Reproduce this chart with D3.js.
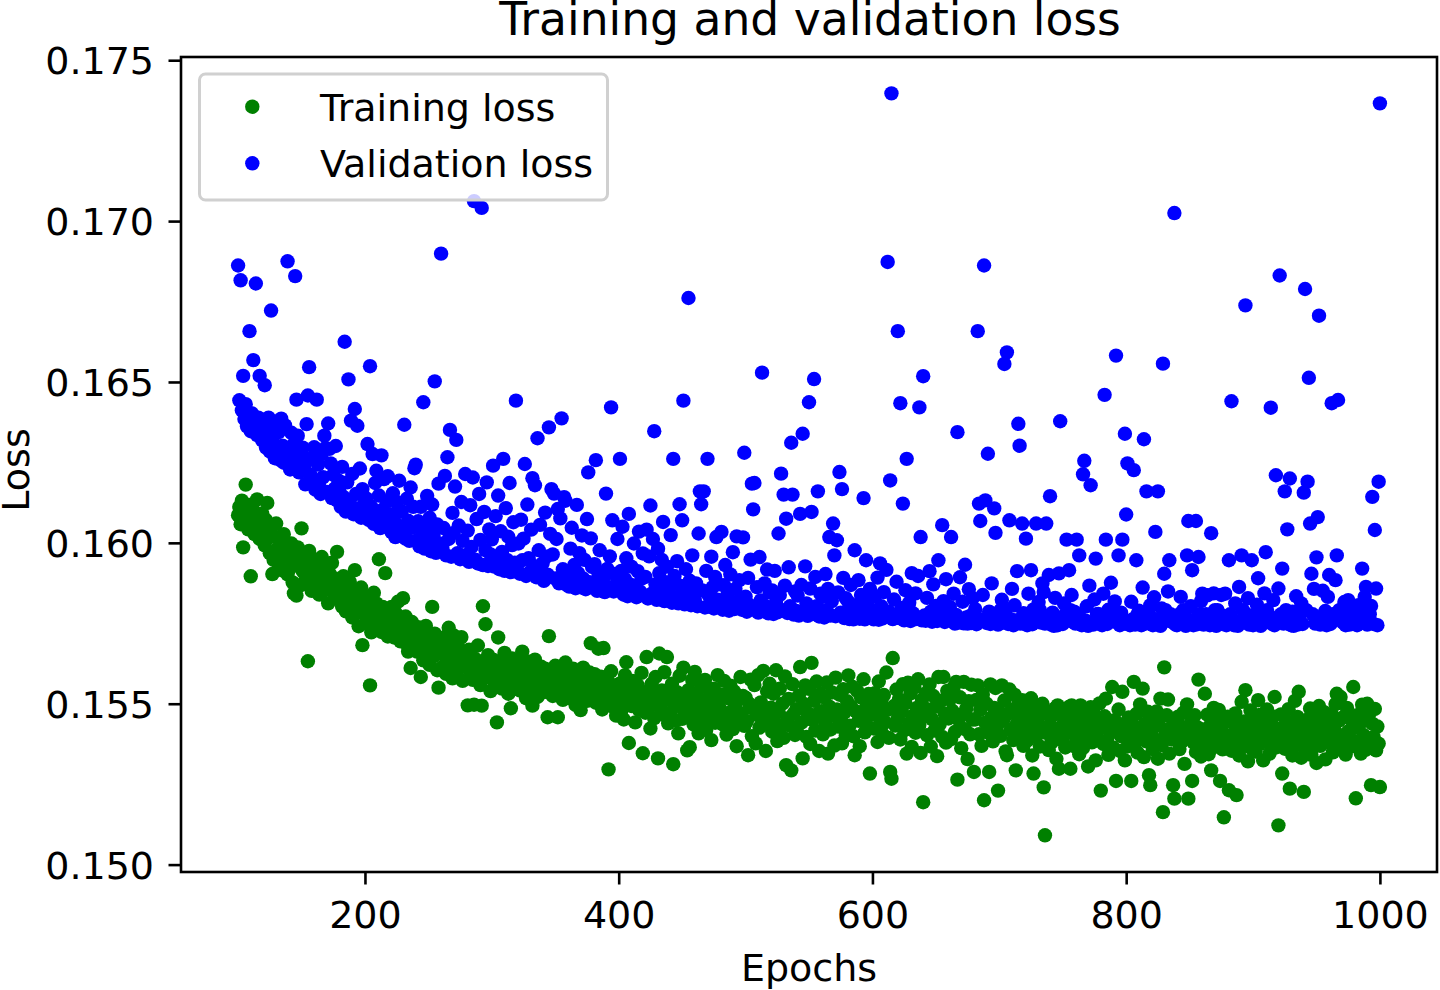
<!DOCTYPE html>
<html><head><meta charset="utf-8">
<script src="https://cdn.jsdelivr.net/npm/d3@7"></script>
<style>body{margin:0;background:#fff} svg{display:block} text{font-family:"DejaVu Sans",sans-serif;fill:#000}</style>
</head><body>
<svg id="chart" width="1440" height="990"></svg>
<script>
const epochStart = 100;
const trainLoss = [
0.16086,0.16112,0.16058,0.16131,0.15986,0.16095,0.16181,0.16074,0.16042,0.16118,0.15896,0.16063,0.16101,0.16027,0.16079,0.16135,0.16048,0.16012,0.16066,0.16091,
0.16038,0.15992,0.16071,0.16124,0.16015,0.15968,0.16052,0.15903,0.15947,0.16019,0.16060,0.15981,0.15935,0.16008,0.15972,0.15914,0.16027,0.15958,0.15996,0.15902,
0.15963,0.15921,0.15998,0.15877,0.15843,0.15952,0.15836,0.15986,0.15931,0.15868,0.16045,0.15912,0.15957,0.15883,0.15939,0.15632,0.15975,0.15896,0.15851,0.15928,
0.15902,0.15948,0.15867,0.15915,0.15839,0.15881,0.15956,0.15894,0.15852,0.15923,0.15877,0.15812,0.15905,0.15861,0.15938,0.15846,0.15889,0.15827,0.15972,0.15864,
0.15834,0.15871,0.15802,0.15896,0.15845,0.15787,0.15858,0.15813,0.15879,0.15846,0.15768,0.15824,0.15915,0.15795,0.15852,0.15741,0.15808,0.15861,0.15682,0.15779,
0.15789,0.15832,0.15748,0.15806,0.15557,0.15722,0.15791,0.15845,0.15764,0.15812,0.15738,0.15949,0.15779,0.15723,0.15801,0.15756,0.15906,0.15782,0.15709,0.15768,
0.15742,0.15801,0.15768,0.15706,0.15783,0.15735,0.15817,0.15759,0.15694,0.15748,0.15828,0.15722,0.15771,0.15685,0.15662,0.15739,0.15611,0.15754,0.15708,0.15673,
0.15704,0.15662,0.15738,0.15691,0.15583,0.15726,0.15635,0.15679,0.15742,0.15658,0.15706,0.15621,0.15689,0.15801,0.15647,0.15718,0.15672,0.15604,0.15550,0.15693,
0.15672,0.15614,0.15705,0.15648,0.15593,0.15681,0.15736,0.15627,0.15664,0.15579,0.15712,0.15641,0.15598,0.15686,0.15623,0.15659,0.15707,0.15571,0.15638,0.15614,
0.15631,0.15495,0.15668,0.15602,0.15645,0.15574,0.15497,0.15639,0.15592,0.15681,0.15617,0.15558,0.15494,0.15803,0.15634,0.15747,0.15583,0.15651,0.15606,0.15539,
0.15598,0.15637,0.15566,0.15612,0.15442,0.15706,0.15581,0.15629,0.15547,0.15602,0.15658,0.15573,0.15614,0.15531,0.15596,0.15486,0.15641,0.15569,0.15603,0.15552,
0.15576,0.15628,0.15541,0.15603,0.15662,0.15558,0.15594,0.15517,0.15631,0.15573,0.15609,0.15546,0.15494,0.15588,0.15637,0.15562,0.15521,0.15598,0.15547,0.15615,
0.15582,0.15536,0.15609,0.15567,0.15458,0.15710,0.15549,0.15593,0.15524,0.15571,0.15618,0.15539,0.15458,0.15586,0.15547,0.15604,0.15512,0.15563,0.15628,0.15541,
0.15562,0.15518,0.15594,0.15537,0.15609,0.15553,0.15496,0.15571,0.15525,0.15587,0.15480,0.15546,0.15612,0.15534,0.15568,0.15509,0.15553,0.15597,0.15688,0.15529,
0.15541,0.15592,0.15503,0.15568,0.15671,0.15526,0.15584,0.15482,0.15673,0.15547,0.15513,0.15576,0.15296,0.15538,0.15601,0.15492,0.15557,0.15524,0.15463,0.15549,
0.15512,0.15563,0.15478,0.15536,0.15451,0.15589,0.15629,0.15502,0.15378,0.15547,0.15493,0.15571,0.15526,0.15442,0.15508,0.15557,0.15481,0.15534,0.15596,0.15346,
0.15517,0.15472,0.15645,0.15538,0.15491,0.15423,0.15562,0.15509,0.15455,0.15583,0.15527,0.15330,0.15656,0.15486,0.15541,0.15467,0.15598,0.15512,0.15645,0.15439,
0.15528,0.15473,0.15562,0.15312,0.15504,0.15447,0.15536,0.15408,0.15587,0.15491,0.15453,0.15612,0.15519,0.15466,0.15355,0.15542,0.15365,0.15498,0.15574,0.15436,
0.15599,0.15461,0.15523,0.15408,0.15497,0.15552,0.15432,0.15486,0.15574,0.15419,0.15513,0.15462,0.15538,0.15387,0.15494,0.15547,0.15441,0.15506,0.15589,0.15452,
0.15483,0.15528,0.15436,0.15571,0.15462,0.15404,0.15517,0.15449,0.15556,0.15476,0.15421,0.15538,0.15489,0.15368,0.15512,0.15447,0.15583,0.15469,0.15524,0.15431,
0.15519,0.15445,0.15340,0.15500,0.15575,0.15399,0.15484,0.15558,0.15377,0.15465,0.15589,0.15426,0.15504,0.15436,0.15602,0.15473,0.15353,0.15538,0.15452,0.15562,
0.15488,0.15413,0.15531,0.15443,0.15604,0.15384,0.15475,0.15547,0.15428,0.15500,0.15394,0.15585,0.15309,0.15454,0.15515,0.15432,0.15293,0.15561,0.15469,0.15403,
0.15483,0.15409,0.15525,0.15614,0.15441,0.15330,0.15499,0.15557,0.15397,0.15471,0.15546,0.15375,0.15627,0.15449,0.15509,0.15417,0.15569,0.15469,0.15353,0.15530,
0.15477,0.15405,0.15520,0.15443,0.15566,0.15345,0.15491,0.15420,0.15535,0.15463,0.15370,0.15581,0.15482,0.15429,0.15528,0.15452,0.15377,0.15545,0.15473,0.15401,
0.15508,0.15588,0.15432,0.15492,0.15553,0.15399,0.15340,0.15476,0.15540,0.15447,0.15368,0.15520,0.15458,0.15576,0.15411,0.15488,0.15430,0.15530,0.15283,0.15466,
0.15497,0.15423,0.15533,0.15469,0.15381,0.15569,0.15454,0.15506,0.15406,0.15527,0.15442,0.15597,0.15481,0.15394,0.15288,0.15267,0.15642,0.15493,0.15432,0.15544,
0.15455,0.15514,0.15389,0.15476,0.15561,0.15417,0.15502,0.15345,0.15565,0.15440,0.15532,0.15366,0.15463,0.15551,0.15410,0.15487,0.15576,0.15435,0.15347,0.15512,
0.15194,0.15463,0.15532,0.15402,0.15482,0.15560,0.15367,0.15452,0.15524,0.15417,0.15491,0.15337,0.15583,0.15436,0.15509,0.15397,0.15583,0.15470,0.15379,0.15540,
0.15454,0.15513,0.15390,0.15478,0.15551,0.15412,0.15568,0.15264,0.15450,0.15520,0.15362,0.15467,0.15568,0.15421,0.15485,0.15328,0.15508,0.15405,0.15559,0.15451,
0.15288,0.15451,0.15512,0.15557,0.15405,0.15481,0.15369,0.15528,0.15200,0.15441,0.15500,0.15410,0.15288,0.15560,0.15458,0.15383,0.15487,0.15549,0.15427,0.15230,
0.15474,0.15400,0.15557,0.15448,0.15510,0.15352,0.15340,0.15469,0.15544,0.15419,0.15481,0.15387,0.15528,0.15293,0.15439,0.15500,0.15402,0.15462,0.15511,0.15369,
0.15442,0.15494,0.15385,0.15462,0.15416,0.15517,0.15339,0.15283,0.15455,0.15398,0.15483,0.15431,0.15367,0.15467,0.15500,0.15240,0.15091,0.15409,0.15475,0.15356,
0.15436,0.15379,0.15464,0.15403,0.15486,0.15329,0.15495,0.15298,0.15422,0.15479,0.15386,0.15444,0.15364,0.15460,0.15410,0.15490,0.15298,0.15495,0.15429,0.15368,
0.15447,0.15390,0.15462,0.15343,0.15495,0.15420,0.15363,0.15473,0.15398,0.15451,0.15305,0.15431,0.15489,0.15380,0.15413,0.15466,0.15324,0.15435,0.15390,0.15501,
0.15230,0.15426,0.15375,0.15461,0.15516,0.15387,0.15341,0.15440,0.15410,0.15552,0.15363,0.15449,0.15260,0.15418,0.15482,0.15353,0.15399,0.15537,0.15436,0.15324,
0.15425,0.15367,0.15457,0.15397,0.15260,0.15436,0.15568,0.15378,0.15468,0.15348,0.15422,0.15498,0.15393,0.15547,0.15334,0.15438,0.15383,0.15475,0.15278,0.15247,
0.15417,0.15359,0.15452,0.15389,0.15476,0.15329,0.15432,0.15516,0.15371,0.15163,0.15613,0.15403,0.15464,0.15513,0.15345,0.15425,0.15389,0.15247,0.15205,0.15449,
0.15411,0.15460,0.15359,0.15430,0.15383,0.15472,0.15313,0.15414,0.15498,0.15205,0.15398,0.15440,0.15260,0.15380,0.15464,0.15350,0.15427,0.15575,0.15403,0.15336,
0.15420,0.15373,0.15531,0.15392,0.15466,0.15343,0.15431,0.15293,0.15408,0.15487,0.15366,0.15451,0.15388,0.15481,0.15260,0.15418,0.15358,0.15147,0.15442,0.15381,
0.15460,0.15231,0.15401,0.15354,0.15440,0.15378,0.15470,0.15216,0.15409,0.15339,0.15428,0.15506,0.15367,0.15445,0.15542,0.15386,0.15321,0.15420,0.15479,0.15360,
0.15406,0.15452,0.15351,0.15429,0.15511,0.15374,0.15466,0.15393,0.15324,0.15440,0.15382,0.15482,0.15412,0.15345,0.15435,0.15389,0.15460,0.15521,0.15364,0.15422,
0.15122,0.15398,0.15467,0.15283,0.15418,0.15360,0.15447,0.15383,0.15483,0.15236,0.15408,0.15339,0.15428,0.15509,0.15371,0.15459,0.15537,0.15394,0.15332,0.15436,
0.15226,0.15414,0.15365,0.15451,0.15388,0.15485,0.15341,0.15426,0.15377,0.15468,0.15316,0.15406,0.15493,0.15369,0.15438,0.15391,0.15474,0.15327,0.15419,0.15380,
0.15438,0.15391,0.15467,0.15349,0.15422,0.15499,0.15531,0.15383,0.15448,0.15521,0.15372,0.15458,0.15403,0.15342,0.15487,0.15414,0.15365,0.15452,0.15387,0.15552,
0.15425,0.15206,0.15464,0.15379,0.15436,0.15345,0.15497,0.15403,0.15451,0.15357,0.15500,0.15389,0.15472,0.15247,0.15438,0.15397,0.15484,0.15355,0.15429,0.15376,
0.15241];
const valLoss = [
0.16862,0.16443,0.16816,0.16412,0.16519,0.16385,0.16431,0.16362,0.16398,0.16658,0.16347,0.16402,0.16568,0.16371,0.16806,0.16335,0.16389,0.16519,0.16352,0.16318,
0.16342,0.16490,0.16296,0.16371,0.16389,0.16284,0.16722,0.16318,0.16352,0.16263,0.16377,0.16291,0.16344,0.16258,0.16386,0.16302,0.16249,0.16365,0.16274,0.16875,
0.16281,0.16228,0.16342,0.16251,0.16307,0.16829,0.16445,0.16333,0.16219,0.16274,0.16282,0.16296,0.16238,0.16182,0.16369,0.16458,0.16546,0.16212,0.16263,0.16189,
0.16297,0.16165,0.16445,0.16243,0.16189,0.16152,0.16276,0.16204,0.16333,0.16295,0.16158,0.16371,0.16292,0.16247,0.16139,0.16212,0.16168,0.16301,0.16132,0.16194,
0.16158,0.16112,0.16236,0.16143,0.16625,0.16097,0.16188,0.16508,0.16126,0.16380,0.16214,0.16089,0.16416,0.16152,0.16364,0.16105,0.16231,0.16078,0.16167,0.16119,
0.16094,0.16138,0.16307,0.16071,0.16549,0.16112,0.16276,0.16059,0.16186,0.16224,0.16083,0.16147,0.16046,0.16272,0.16103,0.16198,0.16061,0.16129,0.16207,0.16052,
0.16089,0.16033,0.16154,0.16071,0.16018,0.16126,0.16052,0.16193,0.16024,0.16098,0.16041,0.16367,0.16013,0.16137,0.16069,0.16006,0.16172,0.16047,0.16112,0.16232,
0.16243,0.16008,0.16067,0.15989,0.16112,0.16034,0.16437,0.15982,0.16051,0.16146,0.16002,0.16078,0.15974,0.16119,0.16023,0.16502,0.15969,0.16057,0.16184,0.15998,
0.16899,0.15983,0.16046,0.16208,0.15961,0.16266,0.16012,0.16351,0.15957,0.16093,0.16031,0.16175,0.16320,0.15968,0.16054,0.15949,0.16127,0.16006,0.15952,0.16214,
0.15962,0.16038,0.15941,0.16117,0.15987,0.16203,0.17062,0.15948,0.16074,0.15936,0.16152,0.16009,0.17041,0.15931,0.16096,0.15977,0.16188,0.15928,0.16042,0.15964,
0.16011,0.16240,0.15926,0.16083,0.15954,0.16147,0.15918,0.16036,0.15972,0.16261,0.15913,0.16108,0.15947,0.16019,0.16186,0.15909,0.15993,0.16064,0.15938,0.16442,
0.15931,0.15998,0.15904,0.16072,0.15946,0.16013,0.16245,0.15897,0.16119,0.15952,0.15909,0.16041,0.16201,0.15928,0.16179,0.15893,0.16325,0.15977,0.16056,0.15914,
0.15936,0.15882,0.16094,0.15957,0.15901,0.16359,0.16028,0.16167,0.15964,0.16153,0.15889,0.16012,0.16105,0.15874,0.16076,0.16387,0.15918,0.16142,0.16131,0.15869,
0.15897,0.15864,0.15982,0.16047,0.15873,0.15931,0.15859,0.16118,0.15906,0.15968,0.15862,0.16023,0.15889,0.15947,0.15856,0.16074,0.16219,0.15878,0.16014,0.15925,
0.15868,0.15934,0.16257,0.15851,0.15906,0.15977,0.15858,0.15896,0.15892,0.15847,0.16153,0.15919,0.15862,0.15958,0.16421,0.16070,0.15849,0.15903,0.15871,0.16012,
0.15857,0.16261,0.15913,0.16050,0.15839,0.15887,0.15952,0.15834,0.16090,0.15871,0.15926,0.15845,0.15998,0.15863,0.15831,0.15912,0.16035,0.15848,0.15889,0.15967,
0.15836,0.15894,0.16041,0.15827,0.15958,0.16116,0.15842,0.16012,0.16347,0.15871,0.15823,0.15982,0.15906,0.15839,0.15947,0.16065,0.15819,0.15878,0.15926,0.15832,
0.15862,0.16024,0.15814,0.16261,0.15897,0.15831,0.15943,0.15812,0.16120,0.15866,0.16070,0.16442,0.15809,0.15918,0.15847,0.16761,0.15882,0.15806,0.15961,0.15838,
0.15821,0.15874,0.15803,0.16029,0.16160,0.16120,0.15852,0.16160,0.15799,0.15913,0.16261,0.15836,0.15801,0.15957,0.15862,0.15796,0.15894,0.16018,0.15823,0.15871,
0.15809,0.16034,0.15792,0.15868,0.15931,0.15797,0.15843,0.15789,0.15902,0.15816,0.15971,0.15794,0.15857,0.16020,0.15801,0.15884,0.15826,0.15792,0.16017,0.16280,
0.15833,0.15786,0.15891,0.15807,0.15948,0.16184,0.16104,0.16186,0.15794,0.15862,0.15783,0.15956,0.15821,0.16529,0.15788,0.15874,0.15803,0.15917,0.15781,0.15846,
0.15797,0.15852,0.15779,0.15913,0.15816,0.15784,0.16029,0.15838,0.16215,0.15791,0.16150,0.15867,0.16075,0.15782,0.15924,0.15803,0.16311,0.16150,0.15777,0.15849,
0.15788,0.15836,0.15774,0.16090,0.15869,0.16339,0.15781,0.15927,0.15812,0.15773,0.16437,0.15858,0.16096,0.15779,0.16509,0.15894,0.15803,0.16160,0.15771,0.15842,
0.15785,0.15832,0.15768,0.15903,0.15791,0.15857,0.16018,0.15774,0.15819,0.16060,0.15961,0.15772,0.16008,0.15846,0.16220,0.15783,0.16167,0.15891,0.15766,0.15828,
0.15774,0.15817,0.15763,0.15869,0.15792,0.15762,0.15977,0.15806,0.15771,0.15884,0.15764,0.15838,0.15779,0.16139,0.15762,0.15946,0.15813,0.15768,0.15857,0.15775,
0.15791,0.15762,0.15834,0.15769,0.15892,0.15761,0.15936,0.15803,0.15765,0.15847,0.15772,0.15916,0.16873,0.15786,0.16194,0.17397,0.15763,0.15824,0.15771,0.15879,
0.16658,0.15766,0.16434,0.15798,0.16122,0.15759,0.15853,0.16261,0.15772,0.15814,0.15757,0.15906,0.15781,0.15762,0.15843,0.15768,0.15897,0.16421,0.16018,0.15759,
0.16518,0.15774,0.15758,0.15829,0.15763,0.15912,0.15786,0.15755,0.15871,0.15769,0.15804,0.15757,0.15946,0.15778,0.15762,0.16055,0.15819,0.15754,0.15887,0.15771,
0.15763,0.15801,0.16018,0.15756,0.15842,0.15749,0.15776,0.16344,0.15752,0.15893,0.15761,0.15817,0.15750,0.15932,0.15768,0.15749,0.15856,0.15773,0.15751,0.15828,
0.15759,0.15794,0.15747,0.16658,0.16122,0.16068,0.15762,0.15838,0.16862,0.16132,0.15751,0.16277,0.15786,0.15748,0.15874,0.15756,0.16107,0.16031,0.15769,0.15746,
0.15768,0.15791,0.15823,0.15752,0.16556,0.15791,0.16592,0.15748,0.16070,0.15763,0.15857,0.15744,0.15806,0.15759,0.15912,0.16370,0.16302,0.15749,0.16060,0.15781,
0.15756,0.16013,0.15744,0.15842,0.15768,0.15915,0.15747,0.15793,0.15778,0.16060,0.15761,0.15816,0.15791,0.15752,0.15874,0.15847,0.15749,0.16060,0.15772,0.15900,
0.16145,0.15746,0.15783,0.15742,0.15829,0.15757,0.15744,0.15905,0.16378,0.15763,0.15748,0.15812,0.15778,0.16010,0.15771,0.15915,0.15791,0.15838,0.15754,0.15786,
0.15749,0.16010,0.15778,0.15961,0.15766,0.15744,0.16213,0.16255,0.15758,0.15803,0.15742,0.15867,0.16179,0.15751,0.15746,0.15824,0.15951,0.15778,0.15779,0.15756,
0.15761,0.15744,0.15842,0.16460,0.16010,0.15748,0.15792,0.15778,0.15876,0.15757,0.15791,0.15818,0.16582,0.15752,0.15961,0.15744,0.15783,0.16010,0.15749,0.16339,
0.16088,0.16247,0.15751,0.15744,0.15817,0.15762,0.16226,0.15746,0.15946,0.15778,0.15789,0.15757,0.15744,0.15861,0.16322,0.15749,0.16160,0.15768,0.15778,0.15806,
0.15752,0.15744,0.15831,0.16034,0.15747,0.16160,0.15763,0.15742,0.15796,0.16557,0.15904,0.15791,0.15758,0.15849,0.15946,0.15778,0.15774,0.15752,0.17025,0.15746,
0.15744,0.15768,0.15778,0.15832,0.15757,0.15791,0.15786,0.15742,0.15961,0.16068,0.15749,0.15803,0.15915,0.15744,0.15762,0.16068,0.15747,0.15956,0.15778,0.15819,
0.15842,0.15746,0.15758,0.15778,0.15837,0.15752,0.15744,0.16030,0.15769,0.15843,0.15791,0.15742,0.15791,0.15756,0.15778,0.15838,0.15748,0.15764,0.15842,0.15744,
0.15752,0.15946,0.15778,0.16440,0.15758,0.15744,0.15812,0.15749,0.15742,0.15863,0.15751,0.15961,0.15791,0.15774,0.16738,0.15778,0.15828,0.15746,0.15757,0.15946,
0.15744,0.15762,0.15778,0.15808,0.15890,0.15747,0.15742,0.15784,0.15751,0.15843,0.15971,0.15791,0.15778,0.15769,0.16420,0.15748,0.15822,0.15744,0.16210,0.15757,
0.15858,0.16831,0.15778,0.15920,0.15749,0.16160,0.15791,0.16042,0.15762,0.16200,0.15744,0.15786,0.15742,0.15753,0.15834,0.15746,0.15771,0.15778,0.15812,0.15748,
0.16156,0.16789,0.15791,0.16190,0.16513,0.16060,0.15904,0.15778,0.15857,0.15749,0.15955,0.16080,0.16706,0.15746,0.15762,0.15851,0.15778,0.15788,0.15744,0.15832,
0.15900,0.15748,0.16434,0.15778,0.15766,0.15884,0.15961,0.16444,0.15791,0.15791,0.15778,0.15752,0.15816,0.15744,0.15763,0.15822,0.15746,0.15778,0.15801,0.15757,
0.15749,0.15772,0.15744,0.15806,0.15791,0.15758,0.15920,0.15778,0.15832,0.15863,0.15746,0.15751,0.15778,0.15804,0.16143,0.15748,0.16040,0.15858,0.15744,0.16190,
0.17366];
const xTicks = [200, 400, 600, 800, 1000];
const yTicks = [0.150, 0.155, 0.160, 0.165, 0.170, 0.175];
const seriesNames = ["Training loss", "Validation loss"];
const seriesColors = ["#008000", "#0000ff"];
const titleText = "Training and validation loss";
const xLabel = "Epochs";
const yLabel = "Loss";

const W = 1440, H = 990;
const M = {left: 181, right: 1437, top: 57, bottom: 872};
const FS = 38;
const svg = d3.select("#chart");
svg.append("rect").attr("width", W).attr("height", H).attr("fill", "#fff");

const x = d3.scaleLinear().domain([55, 1045]).range([M.left, M.right]);
const y = d3.scaleLinear().domain([0.14977, 0.17510]).range([M.bottom, M.top]);

const epochs = trainLoss.map((_, i) => epochStart + i);
const series = [trainLoss, valLoss];

series.forEach((vals, s) => {
  svg.append("g").selectAll("circle").data(vals).join("circle")
    .attr("cx", (d, i) => x(epochs[i]))
    .attr("cy", d => y(d))
    .attr("r", 7.2)
    .attr("fill", seriesColors[s]);
});

// axes
const xAxis = svg.append("g").attr("transform", `translate(0,${M.bottom})`)
  .call(d3.axisBottom(x).tickValues(xTicks).tickSizeInner(12.5).tickSizeOuter(0).tickFormat(d3.format("d")));
xAxis.select(".domain").remove();
xAxis.selectAll("line").attr("stroke", "#000").attr("stroke-width", 2.6);
xAxis.selectAll("text").attr("y", 56).attr("dy", null)
  .style("font-size", FS + "px").style("font-family", "DejaVu Sans").attr("fill", "#000");

const yAxis = svg.append("g").attr("transform", `translate(${M.left},0)`)
  .call(d3.axisLeft(y).tickValues(yTicks).tickSizeInner(12.5).tickSizeOuter(0).tickFormat(d3.format(".3f")));
yAxis.select(".domain").remove();
yAxis.selectAll("line").attr("stroke", "#000").attr("stroke-width", 2.6);
yAxis.selectAll("text").attr("x", -27).attr("dy", "0.36em")
  .style("font-size", FS + "px").style("font-family", "DejaVu Sans").attr("fill", "#000");

// frame
svg.append("rect").attr("x", M.left).attr("y", M.top)
  .attr("width", M.right - M.left).attr("height", M.bottom - M.top)
  .attr("fill", "none").attr("stroke", "#000").attr("stroke-width", 2.6);

// title and labels
svg.append("text").attr("x", 810).attr("y", 35)
  .attr("text-anchor", "middle").style("font-size", "45.6px").text(titleText);
svg.append("text").attr("x", 809).attr("y", 981)
  .attr("text-anchor", "middle").style("font-size", FS + "px").text(xLabel);
svg.append("text").attr("transform", `translate(28.5,470) rotate(-90)`)
  .attr("text-anchor", "middle").style("font-size", FS + "px").text(yLabel);

// legend
const lg = svg.append("g");
lg.append("rect").attr("x", 199.5).attr("y", 74).attr("width", 408).attr("height", 126)
  .attr("rx", 6).attr("fill", "#fff").attr("fill-opacity", 0.8)
  .attr("stroke", "#d0d0d0").attr("stroke-width", 3);
seriesNames.forEach((name, i) => {
  const cy = 106.7 + i * 56.6;
  lg.append("circle").attr("cx", 252.3).attr("cy", cy).attr("r", 7.2).attr("fill", seriesColors[i]);
  lg.append("text").attr("x", 320).attr("y", cy + 14).style("font-size", FS + "px").text(name);
});
</script>
</body></html>
